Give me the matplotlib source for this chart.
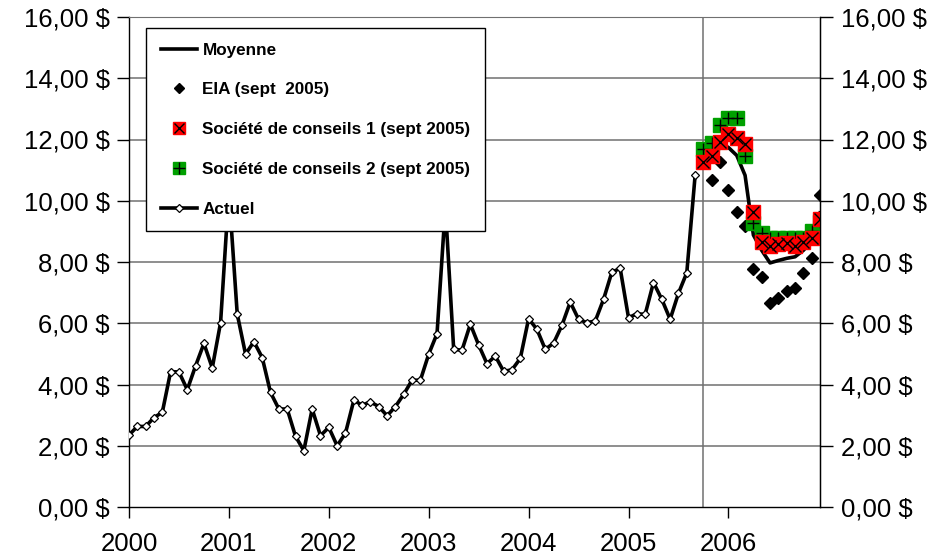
import matplotlib
matplotlib.use('Agg')
import matplotlib.pyplot as plt
import numpy as np
from matplotlib.lines import Line2D
from matplotlib.legend_handler import HandlerTuple
from matplotlib.ticker import FuncFormatter

plt.rcParams['font.family'] = ['Liberation Sans', 'DejaVu Sans']

# ---------------- data ----------------
years = ['2000', '2001', '2002', '2003', '2004', '2005', '2006']

# monthly actual prices, Jan 2000 - Sep 2005
actuel = [2.35, 2.63, 2.63, 2.92, 3.09, 4.42, 4.41, 3.83, 4.61, 5.34, 4.54, 6.02,
          10.30, 6.30, 4.99, 5.40, 4.88, 3.74, 3.20, 3.20, 2.31, 1.84, 3.20, 2.33,
          2.60, 2.00, 2.41, 3.48, 3.33, 3.43, 3.28, 2.98, 3.28, 3.68, 4.14, 4.14,
          4.99, 5.66, 9.80, 5.15, 5.12, 5.97, 5.29, 4.68, 4.93, 4.43, 4.48, 4.85,
          6.15, 5.80, 5.15, 5.35, 5.93, 6.69, 6.13, 6.02, 6.07, 6.78, 7.67, 7.79,
          6.18, 6.31, 6.29, 7.33, 6.78, 6.13, 6.98, 7.65, 10.83]

# forecasts Oct 2005 - Dec 2006
eia = [11.58, 10.67, 11.25, 10.34, 9.64, 9.18, 7.76, 7.52, 6.65, 6.81, 7.05, 7.16,
       7.64, 8.14, 10.18]
conseil1 = [11.26, 11.46, 11.93, 12.18, 12.06, 11.84, 9.62, 8.65, 8.52, 8.58, 8.63,
            8.53, 8.66, 8.77, 9.42]
conseil2 = [11.70, 11.89, 12.48, 12.71, 12.71, 11.46, 9.26, 8.96, 8.78, 8.78, 8.78,
            8.78, 8.78, 9.01, 9.32]
moyenne = [11.51, 11.34, 11.89, 11.74, 11.48, 10.83, 8.88, 8.38, 7.97, 8.05, 8.12,
           8.17, 8.38, 8.68, 9.60]

# ---------------- figure ----------------
W, H = 933, 556
fig = plt.figure(figsize=(W / 100, H / 100), dpi=100)
ax = fig.add_axes([129 / W, 1 - 507 / H, (820 - 129) / W, (507 - 17) / H])

x_act = np.arange(len(actuel))
x_fc = np.arange(len(actuel), len(actuel) + len(eia))
n_total = len(actuel) + len(eia)

grid_c = '#707070'
for v in range(2, 17, 2):
    ax.axhline(v, color=grid_c, lw=1.1, zorder=1)
ax.axvline(len(actuel), color=grid_c, lw=1.1, zorder=1)

ax.plot(x_act, actuel, color='black', lw=2.6, marker='D', ms=4.5,
        mfc='white', mec='black', mew=0.9, zorder=3)
ax.plot(x_fc, moyenne, color='black', lw=2.6, zorder=3)
ax.plot(x_fc, eia, ls='none', marker='D', ms=6, color='black', zorder=4)
ax.plot(x_fc, conseil2, ls='none', marker='s', ms=9.5, mfc='#00a000', mec='#00a000', zorder=5)
ax.plot(x_fc, conseil2, ls='none', marker='+', ms=9, color='black', mew=1.0, zorder=5)
ax.plot(x_fc, conseil1, ls='none', marker='s', ms=9.5, mfc='#ff0000', mec='#ff0000', zorder=6)
ax.plot(x_fc, conseil1, ls='none', marker='x', ms=8, color='black', mew=1.0, zorder=6)

ax.set_xlim(0, n_total - 1)
ax.set_ylim(0, 16)
ax.set_xticks(np.arange(len(years)) * 12)
ax.set_xticklabels(years)
ax.set_yticks(np.arange(0, 17, 2))

fmt = FuncFormatter(lambda v, p: f"{v:.2f}".replace('.', ',') + " $")
ax.yaxis.set_major_formatter(fmt)

for s in ['left', 'bottom', 'right']:
    ax.spines[s].set_color('black')
    ax.spines[s].set_linewidth(1.0)
ax.spines['top'].set_color(grid_c)

ax.tick_params(axis='y', direction='out', length=9, width=1, pad=5, labelsize=18.5)
ax.tick_params(axis='x', direction='out', length=8, width=1, pad=10, labelsize=18.5)

ax2 = ax.twinx()
ax2.set_ylim(0, 16)
ax2.set_yticks(np.arange(0, 17, 2))
ax2.yaxis.set_major_formatter(fmt)
ax2.tick_params(axis='y', direction='out', length=9, width=1, pad=6, labelsize=18.5)
for s in ['left', 'bottom', 'top']:
    ax2.spines[s].set_visible(False)
ax2.spines['right'].set_color('black')

# ---------------- legend ----------------
h_moy = Line2D([], [], color='black', lw=2.6)
h_eia = Line2D([], [], ls='none', marker='D', ms=5.5, color='black')
h_c1 = (Line2D([], [], ls='none', marker='s', ms=8, mfc='#ff0000', mec='#ff0000'),
        Line2D([], [], ls='none', marker='x', ms=7, color='black', mew=1.0))
h_c2 = (Line2D([], [], ls='none', marker='s', ms=8, mfc='#00a000', mec='#00a000'),
        Line2D([], [], ls='none', marker='+', ms=8, color='black', mew=1.0))
h_act = Line2D([], [], color='black', lw=2.6, marker='D', ms=4.5,
               mfc='white', mec='black', mew=0.9)

leg = fig.legend([h_moy, h_eia, h_c1, h_c2, h_act],
                 ['Moyenne', 'EIA (sept  2005)', 'Société de conseils 1 (sept 2005)',
                  'Société de conseils 2 (sept 2005)', 'Actuel'],
                 handler_map={tuple: HandlerTuple(ndivide=1)},
                 loc='upper left', bbox_to_anchor=(146 / W, 1 - 28 / H),
                 bbox_transform=fig.transFigure, borderaxespad=0,
                 prop={'weight': 'bold', 'size': 12.3},
                 frameon=True, fancybox=False, framealpha=1, edgecolor='black',
                 borderpad=0.85, labelspacing=1.45, handlelength=2.15,
                 handletextpad=0.3, numpoints=1)
leg.get_frame().set_linewidth(1.0)
leg.set_zorder(10)

fig.savefig('out.png', dpi=100)
